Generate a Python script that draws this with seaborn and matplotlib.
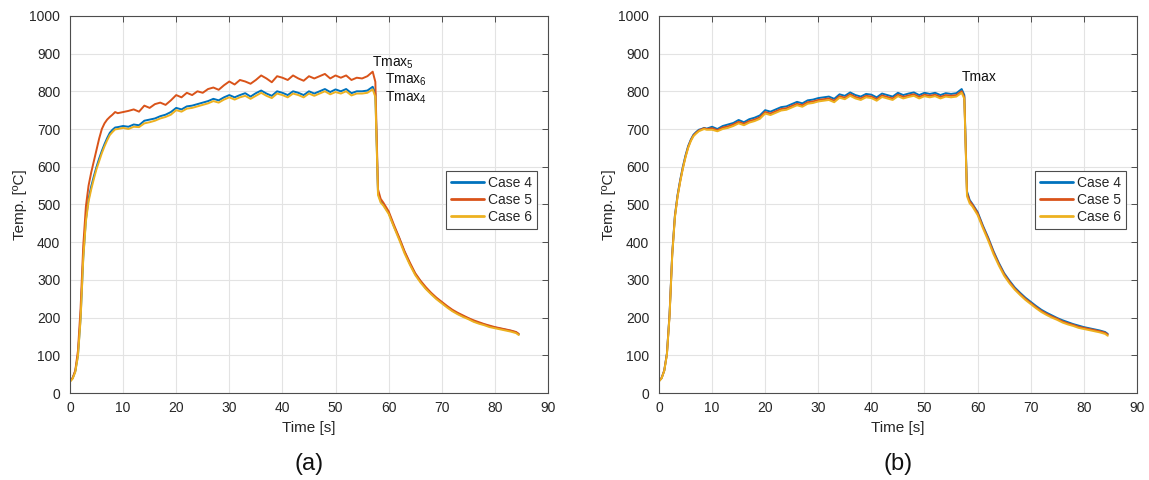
import numpy as np
import pandas as pd
import matplotlib
matplotlib.use("Agg")
import matplotlib.pyplot as plt
import seaborn as sns

sns.set_style("white")
plt.rcParams["font.family"] = ["Liberation Sans", "DejaVu Sans"]
plt.rcParams["mathtext.default"] = "regular"

# Sampling instants [s]: heating ramp, plateau, quench and cooling
TIME = [0, 0.5, 1, 1.5, 2, 2.5, 3, 3.5, 4, 4.5, 5, 5.5, 6, 6.5, 7, 7.5, 8, 8.5, 9,
        10, 11, 12, 13, 14, 15, 16, 17, 18, 19, 20, 21, 22, 23, 24, 25, 26, 27, 28, 29,
        30, 31, 32, 33, 34, 35, 36, 37, 38, 39, 40, 41, 42, 43, 44, 45, 46, 47, 48, 49,
        50, 51, 52, 53, 54, 55, 56, 57,
        57.5, 58, 58.5, 59, 60, 61, 62, 63, 64, 65, 66, 67, 68, 69, 70, 71, 72, 73, 74,
        75, 76, 77, 78, 79, 80, 81, 82, 83, 84, 84.5]

CASES = ["Case 4", "Case 5", "Case 6"]
COLORS = ["#0072BD", "#D95319", "#EDB120"]

# Panel (a) temperatures [°C]
A_CASE4 = [32, 40, 58, 100, 200, 360, 460, 515, 548, 575, 600, 622, 642, 660, 676, 690, 698, 704, 705,
           708, 706, 712, 710, 722, 725, 728, 734, 738, 745, 756, 752, 760, 762, 766, 770, 774, 780, 776, 784,
           790, 784, 790, 795, 786, 795, 802, 794, 788, 800, 796, 790, 800, 796, 790, 800, 794, 800, 806, 798,
           805, 800, 806, 795, 800, 800, 802, 812,
           795, 530, 510, 500, 478, 442, 410, 374, 343, 316, 296, 278, 264, 251, 240, 229, 219, 211, 204,
           198, 191, 186, 182, 177, 174, 171, 168, 165, 161, 156]
A_CASE5 = [32, 40, 60, 112, 225, 390, 495, 550, 585, 615, 645, 675, 700, 715, 725, 732, 738, 745, 742,
           745, 748, 752, 746, 762, 756, 766, 770, 764, 776, 790, 784, 796, 790, 800, 796, 806, 810, 804, 816,
           826, 818, 830, 826, 820, 830, 842, 834, 824, 840, 836, 830, 842, 834, 828, 840, 834, 840, 846, 834,
           842, 836, 842, 830, 836, 834, 840, 852,
           825, 540, 515, 505, 482, 446, 412, 376, 346, 318, 298, 281, 266, 253, 242, 231, 221, 213, 206,
           199, 193, 188, 183, 179, 175, 172, 169, 166, 162, 157]
A_CASE6 = [30, 38, 56, 98, 195, 355, 455, 508, 540, 568, 594, 615, 636, 654, 670, 684, 692, 699, 700,
           703, 700, 706, 705, 715, 718, 722, 728, 732, 738, 750, 746, 754, 756, 760, 764, 768, 774, 770, 778,
           784, 778, 784, 788, 780, 788, 796, 788, 782, 794, 790, 784, 794, 790, 784, 794, 788, 794, 800, 792,
           798, 794, 800, 789, 794, 794, 796, 805,
           785, 525, 505, 497, 475, 440, 406, 370, 340, 313, 293, 276, 262, 249, 238, 227, 217, 209, 202,
           196, 189, 184, 180, 175, 172, 169, 166, 163, 159, 154]

# Panel (b) temperatures [°C]
B_CASE4 = [32, 40, 60, 105, 210, 370, 470, 525, 565, 600, 630, 655, 672, 685, 692, 698, 700, 703, 701,
           706, 700, 708, 712, 716, 724, 718, 726, 730, 736, 750, 746, 752, 758, 760, 766, 772, 768, 776, 778,
           782, 784, 786, 780, 792, 788, 797, 790, 786, 793, 791, 784, 794, 790, 786, 796, 790, 794, 797, 790,
           796, 793, 796, 790, 795, 793, 795, 806,
           790, 535, 512, 502, 480, 444, 412, 376, 345, 318, 298, 280, 266, 253, 242, 231, 221, 213, 206,
           199, 193, 188, 183, 179, 175, 172, 169, 166, 162, 157]
B_CASE5 = [32, 40, 60, 104, 208, 368, 468, 522, 562, 597, 627, 652, 670, 683, 690, 696, 699, 702, 700,
           702, 697, 704, 707, 712, 719, 714, 721, 725, 731, 745, 741, 747, 753, 755, 761, 767, 763, 771, 773,
           777, 779, 781, 775, 787, 783, 792, 785, 781, 788, 786, 779, 789, 785, 781, 791, 785, 789, 792, 785,
           791, 788, 791, 785, 790, 788, 790, 800,
           785, 530, 509, 500, 477, 441, 409, 373, 342, 315, 295, 277, 263, 250, 239, 228, 218, 210, 203,
           197, 190, 185, 181, 176, 173, 170, 167, 164, 160, 155]
B_CASE6 = [31, 39, 59, 102, 205, 365, 465, 520, 560, 595, 625, 650, 668, 681, 688, 694, 697, 700, 698,
           698, 694, 700, 703, 708, 715, 710, 717, 721, 727, 741, 737, 743, 749, 751, 757, 763, 759, 767, 769,
           773, 775, 777, 771, 783, 779, 788, 781, 777, 784, 782, 775, 785, 781, 777, 787, 781, 785, 788, 781,
           787, 784, 787, 781, 786, 784, 786, 796,
           780, 522, 503, 495, 472, 437, 404, 368, 338, 311, 291, 274, 260, 247, 236, 225, 215, 207, 200,
           194, 187, 182, 178, 173, 170, 167, 164, 161, 157, 152]

X_TICKS = [0, 10, 20, 30, 40, 50, 60, 70, 80, 90]
Y_TICKS = [0, 100, 200, 300, 400, 500, 600, 700, 800, 900, 1000]


def long_frame(series):
    parts = []
    for name, vals in zip(CASES, series):
        parts.append(pd.DataFrame({"Time": TIME, "Temp": vals, "Case": name}))
    return pd.concat(parts, ignore_index=True)


fig = plt.figure(figsize=(11.49, 4.80), dpi=100)
ax_a = fig.add_axes([0.0609, 0.181, 0.416, 0.786])
ax_b = fig.add_axes([0.5735, 0.181, 0.416, 0.786])

panels = [(ax_a, [A_CASE4, A_CASE5, A_CASE6], "(a)"),
          (ax_b, [B_CASE4, B_CASE5, B_CASE6], "(b)")]

for ax, series, tag in panels:
    df = long_frame(series)
    sns.lineplot(data=df, x="Time", y="Temp", hue="Case", hue_order=CASES,
                 palette=COLORS, estimator=None, sort=False, lw=1.4, ax=ax)
    ax.set_xlim(0, 90)
    ax.set_ylim(0, 1000)
    ax.set_xticks(X_TICKS)
    ax.set_yticks(Y_TICKS)
    ax.grid(True, color="#e3e3e3", lw=0.8)
    ax.set_axisbelow(True)
    for sp in ax.spines.values():
        sp.set_color("#4d4d4d")
        sp.set_linewidth(0.8)
    ax.tick_params(axis="both", direction="in", length=4, width=0.7, top=True, right=True,
                   colors="#4d4d4d", labelcolor="#262626", labelsize=10)
    ax.tick_params(axis="x", pad=6)
    ax.tick_params(axis="y", pad=7)
    ax.set_xlabel("Time [s]", fontsize=11, color="#262626", labelpad=4)
    ax.set_ylabel("Temp. [ºC]", fontsize=11, color="#262626", labelpad=2)
    handles, labels = ax.get_legend_handles_labels()
    leg = ax.legend(handles, labels, loc="upper right", bbox_to_anchor=(0.977, 0.588),
                    fontsize=10, frameon=True, fancybox=False, framealpha=1,
                    edgecolor="#4d4d4d", handlelength=2.4, handletextpad=0.3,
                    labelspacing=0.2, borderpad=0.35, borderaxespad=0)
    leg.get_frame().set_linewidth(0.8)
    for line in leg.get_lines():
        line.set_linewidth(2.0)
    ax.text(0.5, -0.188, tag, transform=ax.transAxes, ha="center", va="center",
            fontsize=17, color="#111111")

# Peak temperature labels
ax_a.text(56.9, 866, "Tmax$_{5}$", fontsize=10, color="#111111", va="baseline", ha="left")
ax_a.text(59.3, 820, "Tmax$_{6}$", fontsize=10, color="#111111", va="baseline", ha="left")
ax_a.text(59.3, 773, "Tmax$_{4}$", fontsize=10, color="#111111", va="baseline", ha="left")
ax_b.text(57.1, 828, "Tmax", fontsize=10, color="#111111", va="baseline", ha="left")

fig.savefig("out.png", dpi=100, facecolor="white")
